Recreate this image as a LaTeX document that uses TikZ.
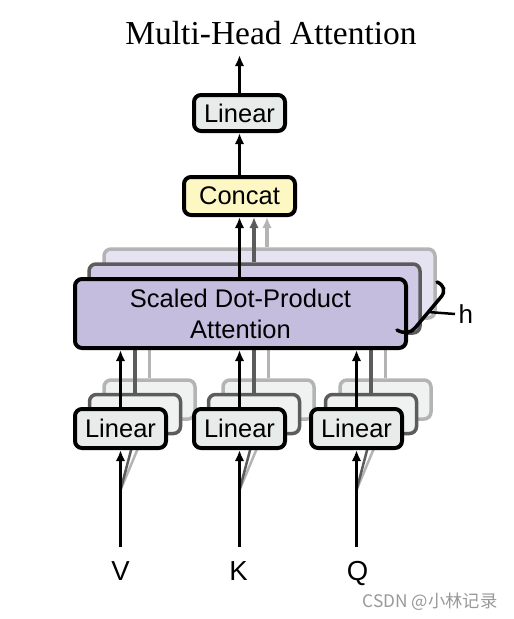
\documentclass[tikz,border=0pt]{standalone}
\usepackage{fontspec}
\setmainfont{Liberation Sans}
\newfontfamily\titlefont{Liberation Serif}
\newfontfamily\cjkfont{Noto Sans CJK SC}
\usetikzlibrary{arrows.meta}
\definecolor{linfill}{HTML}{E7ECEA}
\definecolor{linback}{HTML}{F0F2F1}
\definecolor{catfill}{HTML}{FDF7C4}
\definecolor{attfill}{HTML}{C4BDDE}
\definecolor{attmid}{HTML}{D0CAE6}
\definecolor{attback}{HTML}{E5E2F2}
\definecolor{midgray}{HTML}{5C5C5C}
\definecolor{lightgray}{HTML}{B4B4B4}
\begin{document}
\begin{tikzpicture}[x=1pt,y=-1pt,
  box/.style={draw=black, line width=4pt, rounded corners=7pt, inner sep=0pt, align=center,
              font=\fontsize{25.5}{31}\selectfont},
  lin/.style={box, fill=linfill, minimum width=91pt, minimum height=39pt},
  linmid/.style={lin, fill=linback, draw=midgray, line width=3.5pt},
  linbk/.style={lin, fill=linback, draw=lightgray, line width=3.5pt},
  att/.style={box, fill=attfill, minimum width=331pt, minimum height=69pt},
  attm/.style={att, fill=attmid, draw=midgray, line width=3.5pt},
  attb/.style={att, fill=attback, draw=lightgray, line width=3.5pt},
  arr/.style={line width=3.5pt, -{Latex[length=11pt,width=9.5pt]}},
  arrm/.style={arr, draw=midgray},
  arrb/.style={arr, draw=lightgray},
  diag/.style={line width=2.5pt},
  inlabel/.style={font=\fontsize{27.5}{27.5}\selectfont, anchor=base}
]
\useasboundingbox (0,0) rectangle (514,619);
\fill[white] (0,0) rectangle (514,619);

% title
\node (title) at (271,33) {\titlefont\fontsize{33.5}{33.5}\selectfont Multi-Head Attention};

% back layer (3)
\node[attb] (att3) at (269.5,283.5) {};
\node[linbk] (lv3) at (149.5,399.5) {};
\node[linbk] (lk3) at (268.5,399.5) {};
\node[linbk] (lq3) at (385.5,399.5) {};
\draw[arrb] (lv3.north) -- (lv3.north |- att3.south);
\draw[arrb] (lk3.north) -- (lk3.north |- att3.south);
\draw[arrb] (lq3.north) -- (lq3.north |- att3.south);

% middle layer (2)
\node[attm] (att2) at (254.5,298.5) {};
\node[linmid] (lv2) at (135,414) {};
\node[linmid] (lk2) at (254,414) {};
\node[linmid] (lq2) at (371,414) {};
\draw[arrm] (lv2.north) -- (lv2.north |- att2.south);
\draw[arrm] (lk2.north) -- (lk2.north |- att2.south);
\draw[arrm] (lq2.north) -- (lq2.north |- att2.south);

% input coordinates
\coordinate (vin) at (120.5,547);
\coordinate (kin) at (239.5,547);
\coordinate (qin) at (356.5,547);
\coordinate (vsp) at (120.5,490);
\coordinate (ksp) at (239.5,490);
\coordinate (qsp) at (356.5,490);
\draw[diag, draw=lightgray] (vsp) -- (lv3.south);
\draw[diag, draw=lightgray] (ksp) -- (lk3.south);
\draw[diag, draw=lightgray] (qsp) -- (lq3.south);
\draw[diag, draw=midgray] (vsp) -- (lv2.south);
\draw[diag, draw=midgray] (ksp) -- (lk2.south);
\draw[diag, draw=midgray] (qsp) -- (lq2.south);

% front layer
\node[att] (att) at (240.5,313.5) {Scaled Dot-Product\\Attention};
\node[lin] (lv) at (120.5,428.5) {Linear};
\node[lin] (lk) at (239.5,428.5) {Linear};
\node[lin] (lq) at (356.5,428.5) {Linear};
\draw[arr] (lv.north) -- (lv.north |- att.south);
\draw[arr] (lk.north) -- (lk.north |- att.south);
\draw[arr] (lq.north) -- (lq.north |- att.south);
\draw[arr] (vin) -- (lv.south);
\draw[arr] (kin) -- (lk.south);
\draw[arr] (qin) -- (lq.south);

% concat and output linear
\node[box, fill=catfill, minimum width=111pt, minimum height=38pt] (cat) at (239.5,196) {Concat};
\node[lin, minimum height=36pt] (lt) at (239.5,113) {Linear};
\draw[arrb] (att3.north -| 267,0) -- (cat.south -| 267,0);
\draw[arrm] (att2.north -| 254,0) -- (cat.south -| 254,0);
\draw[arr] (att.north -| cat.south) -- (cat.south);
\draw[arr] (cat.north) -- (lt.south);
\coordinate (out) at (239.5,55);
\draw[arr] (lt.north) -- (out);

% brace h
\draw[line width=3.5pt, line cap=round] (437,282) .. controls (444,285) and (446,291) .. (441,297)
  -- (415,328) .. controls (411,333) and (404,334) .. (397,330);
\coordinate (hs) at (428,312);
\node[font=\fontsize{26}{26}\selectfont, anchor=west] (h) at (455,314) {h};
\draw[line width=2.5pt] (hs) -- (h.west);

% inputs labels
\node[inlabel] (V) at (120.5,580) {V};
\node[inlabel] (K) at (238.5,580) {K};
\node[inlabel] (Q) at (357.5,580) {Q};

% watermark
\node[text=black!40] (wm) at (430,602) {\cjkfont\fontsize{17.3}{18}\selectfont CSDN @小林记录};
\end{tikzpicture}
\end{document}
